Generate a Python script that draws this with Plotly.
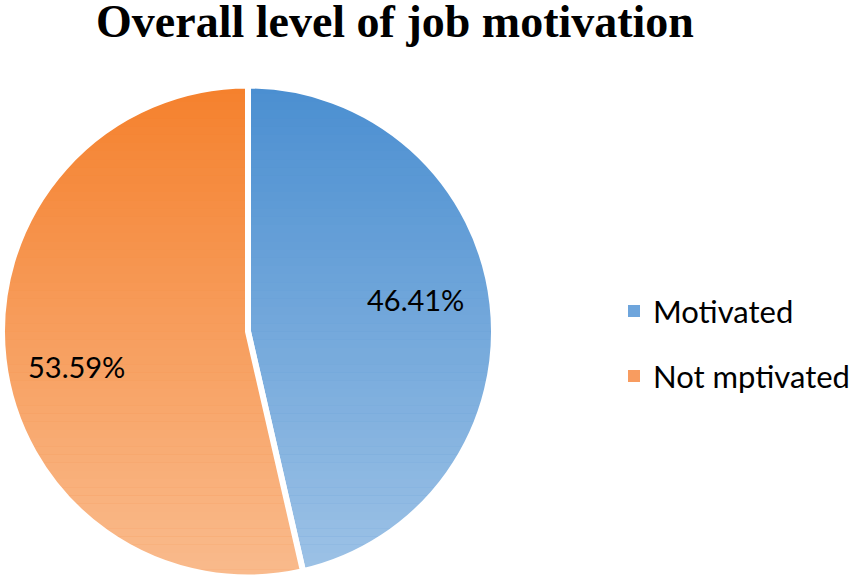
import plotly.graph_objects as go

labels = ["Motivated", "Not mptivated"]
values = [46.41, 53.59]
colors = ["#4b8fd1", "#f5812d"]
legend_colors = ["#6ea5dc", "#f89c60"]
title_text = "Overall level of job motivation"

W, H = 854, 579
cx, cy, R = 248, 331.5, 246  # outer radius incl. half of white outline


def px_x(px):
    return px / W


def px_y(py):
    return 1 - py / H


dom_x = [px_x(cx - R), px_x(cx + R)]
dom_y = [px_y(cy + R), px_y(cy - R)]

fig = go.Figure()
fig.add_trace(
    go.Pie(
        labels=labels,
        values=values,
        sort=False,
        direction="clockwise",
        rotation=0,
        marker=dict(colors=colors, line=dict(color="white", width=6)),
        textinfo="none",
        domain=dict(x=dom_x, y=dom_y),
        hoverinfo="label+percent",
        showlegend=False,
    )
)

# vertical gradient (darker top -> lighter bottom) via white overlay bands
shapes = []
N = 60
amax = 0.46
top = cy - R
for i in range(N):
    y0 = top + 2 * R * i / N
    y1 = top + 2 * R * (i + 1) / N
    a = amax * (i + 0.5) / N
    shapes.append(dict(type="rect", xref="paper", yref="paper",
                       x0=max(px_x(cx - R - 3), 0), x1=px_x(cx + R + 3),
                       y0=px_y(y1), y1=px_y(y0),
                       fillcolor="white", opacity=a, line=dict(width=0),
                       layer="above"))

annotations = []

# percentage labels (Excel best-fit positions)
label_px = [(415, 299), (76, 366)]
for v, (lx, ly) in zip(values, label_px):
    annotations.append(dict(x=px_x(lx), y=px_y(ly), xref="paper", yref="paper",
                            text=f"{v:.2f}%", showarrow=False,
                            font=dict(family="Lato", size=29, color="black"),
                            xanchor="center", yanchor="middle"))

# legend (square key + label), laid out like the reference
legend_x, legend_y0, legend_dy, key = 628, 311, 65, 12
for i, (lab, col) in enumerate(zip(labels, legend_colors)):
    yc = legend_y0 + i * legend_dy
    shapes.append(dict(type="rect", xref="paper", yref="paper",
                       x0=px_x(legend_x), x1=px_x(legend_x + key),
                       y0=px_y(yc + key / 2), y1=px_y(yc - key / 2),
                       fillcolor=col, line=dict(width=0), layer="above"))
    annotations.append(dict(x=px_x(legend_x + 23), y=px_y(yc), xref="paper",
                            yref="paper", text=lab, showarrow=False,
                            font=dict(family="Lato", size=31, color="black"),
                            xanchor="left", yanchor="middle"))

fig.update_layout(
    width=W, height=H,
    margin=dict(l=0, r=0, t=0, b=0),
    paper_bgcolor="white", plot_bgcolor="white",
    showlegend=False,
    title=dict(text=f"<b>{title_text}</b>", x=395 / W, xanchor="center",
               y=1 - 21 / H, yanchor="middle", yref="container",
               font=dict(family="Liberation Serif", size=46, color="black")),
    shapes=shapes,
    annotations=annotations,
)

fig.write_html("out.html", config={"displayModeBar": False},
               post_script="document.body.style.margin='0';")
